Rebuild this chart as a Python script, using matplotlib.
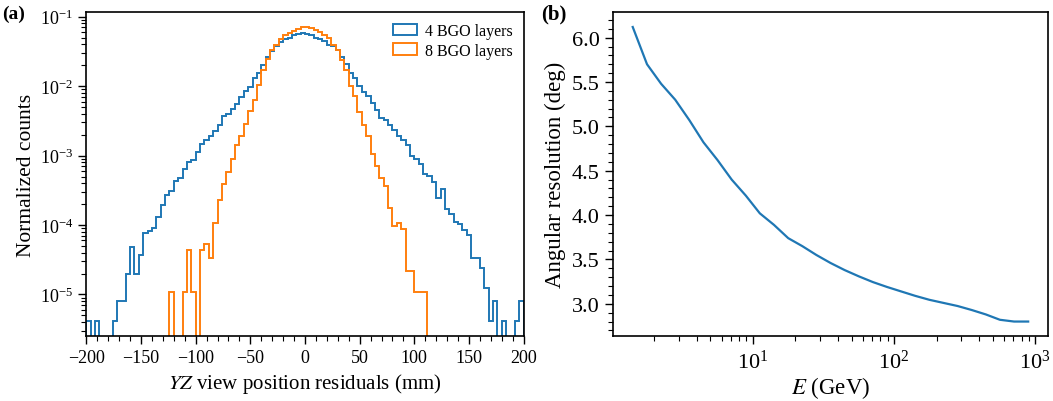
import numpy as np
import matplotlib
matplotlib.use("Agg")
import matplotlib.pyplot as plt
from matplotlib.ticker import MultipleLocator, LogLocator, FormatStrFormatter

plt.rcParams['font.family'] = ['Liberation Serif', 'DejaVu Serif']
plt.rcParams['mathtext.fontset'] = 'stix'
plt.rcParams['font.size'] = 13

# (a) residual histograms: 100 bins of 4 mm from -200 to 200 mm
bin_edges = np.linspace(-200, 200, 101)
counts_4bgo = [
    4.1e-6, 0, 4.1e-6, 0, 0, 0, 4.1e-6, 8.1e-6, 8.1e-6, 2.0e-5,
    4.9e-5, 2.0e-5, 3.7e-5, 7.8e-5, 8.1e-5, 9.0e-5, 1.29e-4, 1.95e-4, 2.69e-4, 3.07e-4,
    4.32e-4, 4.82e-4, 6.43e-4, 8.1e-4, 8.77e-4, 1.13e-3, 1.46e-3, 1.66e-3, 1.9e-3, 2.24e-3,
    2.74e-3, 3.73e-3, 3.94e-3, 4.66e-3, 5.62e-3, 7.01e-3, 8.56e-3, 9.77e-3, 1.32e-2, 1.57e-2,
    2.0e-2, 2.59e-2, 3.19e-2, 3.81e-2, 4.35e-2, 4.75e-2, 5.02e-2, 5.37e-2, 5.73e-2, 5.86e-2,
    5.73e-2, 5.37e-2, 5.02e-2, 4.75e-2, 4.4e-2, 3.98e-2, 3.76e-2, 3.3e-2, 2.59e-2, 2.08e-2,
    1.56e-2, 1.29e-2, 9.9e-3, 8.37e-3, 7.17e-3, 5.74e-3, 4.6e-3, 3.49e-3, 3.3e-3, 2.74e-3,
    2.32e-3, 1.92e-3, 1.7e-3, 1.41e-3, 1.0e-3, 9.07e-4, 7.67e-4, 5.39e-4, 5.04e-4, 4.18e-4,
    2.49e-4, 3.35e-4, 1.68e-4, 1.46e-4, 1.11e-4, 1.05e-4, 8.4e-5, 7.3e-5, 3.4e-5, 3.4e-5,
    2.4e-5, 1.23e-5, 4.1e-6, 8.1e-6, 0, 4.1e-6, 0, 0, 4.1e-6, 8.1e-6,
]
counts_8bgo = [0] * 19 + [
    1.09e-5, 0, 0, 1.09e-5, 4.35e-5, 1.09e-5, 0, 4.35e-5, 5.4e-5, 3.3e-5, 1.08e-4,
    2.32e-4, 3.95e-4, 5.9e-4, 9.07e-4, 1.44e-3, 1.94e-3, 2.89e-3, 4.36e-3, 6.28e-3, 1.04e-2,
    1.70e-2, 2.45e-2, 3.30e-2, 3.98e-2, 4.8e-2, 5.37e-2, 5.78e-2, 6.16e-2, 6.73e-2, 7.1e-2,
    7.1e-2, 6.9e-2, 6.55e-2, 6.1e-2, 5.5e-2, 4.9e-2, 3.98e-2, 3.3e-2, 2.4e-2, 1.7e-2,
    1.02e-2, 7.17e-3, 4.26e-3, 2.74e-3, 1.92e-3, 1.07e-3, 7.03e-4, 4.77e-4, 3.66e-4, 1.74e-4,
    9.7e-5, 1.08e-4, 8.7e-5, 2.18e-5, 2.18e-5, 1.09e-5, 1.09e-5, 1.09e-5,
] + [0] * 22

# (b) angular resolution vs energy
energy = [1.41, 1.78, 2.24, 2.82, 3.55, 4.47, 5.62, 7.08, 8.91, 11.2,
          14.1, 17.8, 22.4, 28.2, 35.5, 44.7, 56.2, 70.8, 89.1, 112,
          141, 178, 224, 282, 355, 447, 562, 708, 891]
resolution = [6.12, 5.70, 5.48, 5.30, 5.07, 4.82, 4.62, 4.40, 4.22, 4.02,
              3.89, 3.74, 3.65, 3.55, 3.46, 3.38, 3.31, 3.245, 3.19, 3.14,
              3.09, 3.045, 3.01, 2.975, 2.93, 2.88, 2.82, 2.80, 2.80]

fig = plt.figure(figsize=(10.53, 4.02), dpi=100)
ax1 = fig.add_axes([0.082, 0.161, 0.4153, 0.806])
ax2 = fig.add_axes([0.5821, 0.161, 0.4131, 0.806])

centers = (bin_edges[:-1] + bin_edges[1:]) / 2
ax1.hist(centers, bins=bin_edges, weights=counts_4bgo, histtype='step',
         color='#1f77b4', lw=1.4, label='4 BGO layers')
ax1.hist(centers, bins=bin_edges, weights=counts_8bgo, histtype='step',
         color='#ff7f0e', lw=1.4, label='8 BGO layers')
ax1.set_yscale('log')
ax1.set_xlim(-200, 200)
ax1.set_ylim(2.5e-6, 0.116)
ax1.xaxis.set_major_locator(MultipleLocator(50))
ax1.xaxis.set_minor_locator(MultipleLocator(10))
ax1.yaxis.set_major_locator(LogLocator(base=10, numticks=10))
ax1.yaxis.set_minor_locator(LogLocator(base=10, subs=np.arange(2, 10), numticks=10))
ax1.set_xlabel('$YZ$ view position residuals (mm)', fontsize=15, labelpad=3)
ax1.set_ylabel('Normalized counts', fontsize=15.5, labelpad=3)
ax1.tick_params(labelsize=13)
ax1.legend(loc='upper right', frameon=False, fontsize=11.5, handlelength=1.5,
           borderaxespad=0.3, labelspacing=0.2, handletextpad=0.5)

ax2.plot(energy, resolution, color='#1f77b4', lw=1.6)
ax2.set_xscale('log')
ax2.yaxis.set_major_locator(MultipleLocator(0.5))
ax2.yaxis.set_minor_locator(MultipleLocator(0.1))
ax2.yaxis.set_major_formatter(FormatStrFormatter('%.1f'))
ax2.set_xlabel('$E$ (GeV)', fontsize=16.5, labelpad=1)
ax2.set_ylabel('Angular resolution (deg)', fontsize=16.5, labelpad=4)
ax2.tick_params(labelsize=16)

for ax in (ax1, ax2):
    ax.tick_params(which='major', direction='out', length=6, width=1)
    ax.tick_params(which='minor', direction='out', length=3.5, width=0.8)
    for sp in ax.spines.values():
        sp.set_linewidth(1.2)

fig.text(0.002, 0.952, '(a)', fontsize=14, fontweight='bold')
fig.text(0.514, 0.952, '(b)', fontsize=15, fontweight='bold')

fig.savefig('out.png', dpi=100)
